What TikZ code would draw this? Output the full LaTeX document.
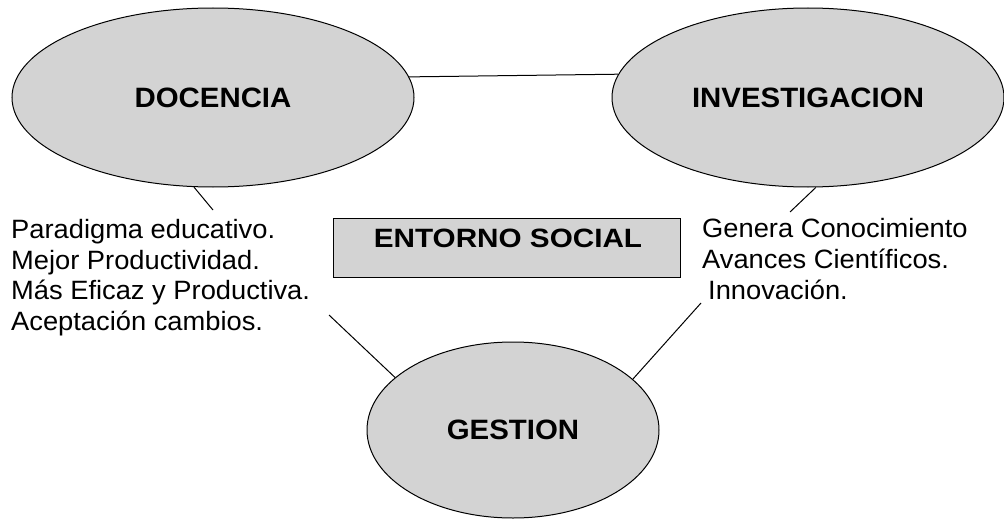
\documentclass[tikz,border=0pt]{standalone}
\usepackage{fontspec}
\setmainfont{Liberation Sans}
\newfontfamily\titlefont[FakeStretch=1.05]{Liberation Sans}
\newfontfamily\boxfont[FakeStretch=1.12]{Liberation Sans}
\newfontfamily\listfont[FakeStretch=1.03]{Liberation Sans}
\usetikzlibrary{shapes.geometric}
\definecolor{fillgray}{RGB}{211,211,211}
\tikzset{
  oval/.style={ellipse, draw=black, line width=1pt, fill=fillgray, inner sep=0pt,
    font=\titlefont\fontsize{28}{30}\selectfont\bfseries},
  conn/.style={draw=black, line width=1pt},
  listtext/.style={align=left, inner sep=0pt, anchor=north west,
    font=\listfont\fontsize{26.5}{30.7}\selectfont},
  socialbox/.style={draw=black, line width=1pt, fill=fillgray, inner sep=0pt}
}
\begin{document}
\begin{tikzpicture}[x=1pt,y=-1pt]
\useasboundingbox (0,0) rectangle (1004,519);
\node[oval, minimum width=402pt, minimum height=179pt] (doc) at (213,97.5) {DOCENCIA};
\node[oval, minimum width=392pt, minimum height=179pt] (inv) at (808,97.5) {INVESTIGACION};
\node[oval, minimum width=292pt, minimum height=176pt] (ges) at (513,430) {GESTION};
\node[socialbox, minimum width=347pt, minimum height=59pt] (box) at (506.5,247.5) {};
\node[inner sep=0pt, font=\boxfont\fontsize{26.5}{28}\selectfont\bfseries] (ent) at (508,238) {ENTORNO SOCIAL};
\node[listtext] (doctext) at (11,219) {Paradigma educativo.\\Mejor Productividad.\\M\'as Eficaz y Productiva.\\Aceptaci\'on cambios.};
\node[listtext] (invtext) at (702,218.5) {Genera Conocimiento\\Avances Cient\'ificos.\\\hspace*{6pt}Innovaci\'on.};
\coordinate (dt1) at (213,210);
\coordinate (dt2) at (329,315);
\coordinate (it1) at (790,212);
\coordinate (it2) at (701,303);
\draw[conn] (doc.6.7) -- (inv.173.1);
\draw[conn] (doc.-102.6) -- (dt1);
\draw[conn] (dt2) -- (ges.156.6);
\draw[conn] (inv.-85.5) -- (it1);
\draw[conn] (it2) -- (ges.23.3);
\end{tikzpicture}
\end{document}
